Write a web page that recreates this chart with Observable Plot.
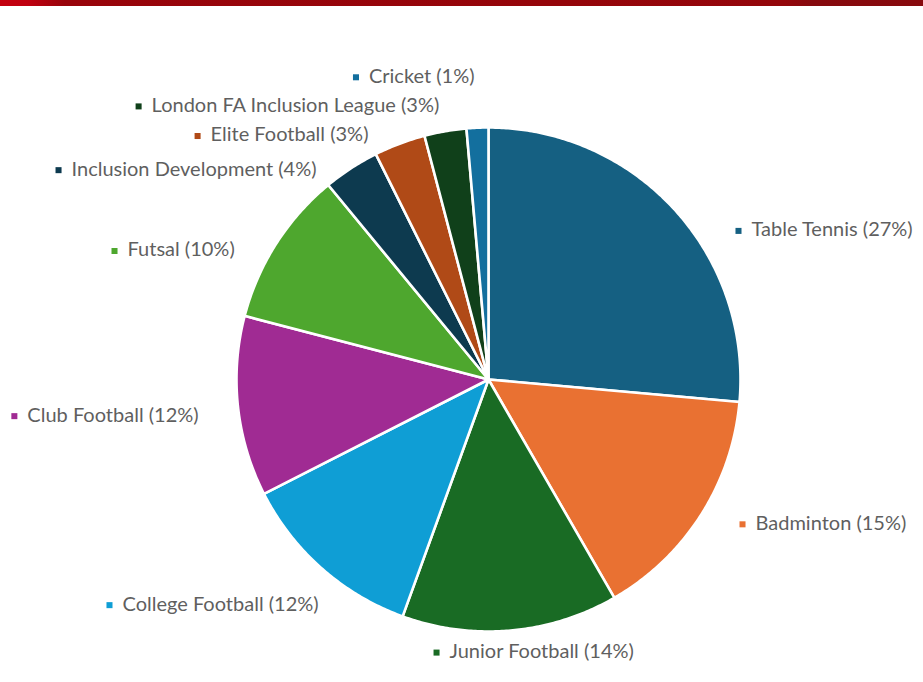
<!DOCTYPE html>
<html>
<head>
<meta charset="utf-8">
<script src="https://cdn.jsdelivr.net/npm/d3@7"></script>
<script src="https://cdn.jsdelivr.net/npm/@observablehq/plot@0.6"></script>
<style>
  html, body { margin: 0; padding: 0; background: #ffffff; }
  #wrap { position: relative; width: 923px; height: 682px; overflow: hidden; }
  #bar { position: absolute; left: 0; top: 0; width: 923px; height: 6px;
         background: linear-gradient(90deg, #c4000e 0%, #c00010 3%, #98040b 7%, #95050a 60%, #94060b 85%, #860a0e 88%, #880a0d 100%); }
</style>
</head>
<body>
<div id="wrap"><div id="bar"></div><div id="chart"></div></div>
<script>
// ---- data ----
const categories = [
  "Table Tennis", "Badminton", "Junior Football", "College Football", "Club Football",
  "Futsal", "Inclusion Development", "Elite Football", "London FA Inclusion League", "Cricket"
];
const values = [26.5, 15.3, 13.9, 12.0, 11.6, 10.0, 3.6, 3.3, 2.7, 1.4];
const percentLabels = [27, 15, 14, 12, 12, 10, 4, 3, 3, 1];

// ---- styling / layout ----
const colors = ["#156082", "#e97132", "#196b24", "#0f9ed5", "#a02b93",
                "#4ea72e", "#0d3a4f", "#b04a17", "#10401a", "#136f9e"];
// label marker anchors, in pie-radius units relative to pie centre (Excel's placement)
const labelAnchors = [
  [0.996, 0.596], [1.012, -0.573], [-0.207, -1.084], [-1.510, -0.895], [-1.889, -0.142],
  [-1.490, 0.516], [-1.713, 0.838], [-1.159, 0.974], [-1.394, 1.092], [-0.528, 1.208]
];

const W = 923, H = 682;
const cx = 488, cy = 379, R = 252;

// slice polygons from pie angles
const total = d3.sum(values);
const slices = [];
let acc = 0;
categories.forEach((cat, i) => {
  const a0 = acc / total * 2 * Math.PI;
  acc += values[i];
  const a1 = acc / total * 2 * Math.PI;
  slices.push({cat, x: 0, y: 0});
  const n = Math.max(2, Math.ceil((a1 - a0) / (Math.PI / 360)));
  for (let k = 0; k <= n; k++) {
    const a = a0 + (a1 - a0) * k / n;
    slices.push({cat, x: Math.sin(a), y: Math.cos(a)});
  }
});

const labels = categories.map((cat, i) => ({
  cat,
  x: labelAnchors[i][0] * 251 / R,
  y: (labelAnchors[i][1] * 251 + (cy - 380)) / R,
  text: `${cat} (${percentLabels[i]}%)`
}));

const chart = Plot.plot({
  width: W,
  height: H,
  margin: 0,
  style: {background: "transparent", overflow: "visible"},
  x: {domain: [-cx / R, (W - cx) / R], axis: null},
  y: {domain: [(cy - H) / R, cy / R], axis: null},
  color: {domain: categories, range: colors},
  marks: [
    Plot.line(slices, {
      x: "x", y: "y", z: "cat", fill: "cat",
      stroke: "white", strokeWidth: 2.6, strokeLinejoin: "round",
      curve: "linear-closed"
    }),
    Plot.dot(labels, {
      x: "x", y: "y", fill: "cat", symbol: "square", r: 3.4, stroke: null
    }),
    Plot.text(labels, {
      x: "x", y: "y", text: "text", dx: 13, dy: -1,
      textAnchor: "start", fontSize: 20,
      fontFamily: "Lato, 'Open Sans', sans-serif",
      fill: "#5f5f5f"
    })
  ]
});
document.getElementById("chart").appendChild(chart);
</script>
</body>
</html>
